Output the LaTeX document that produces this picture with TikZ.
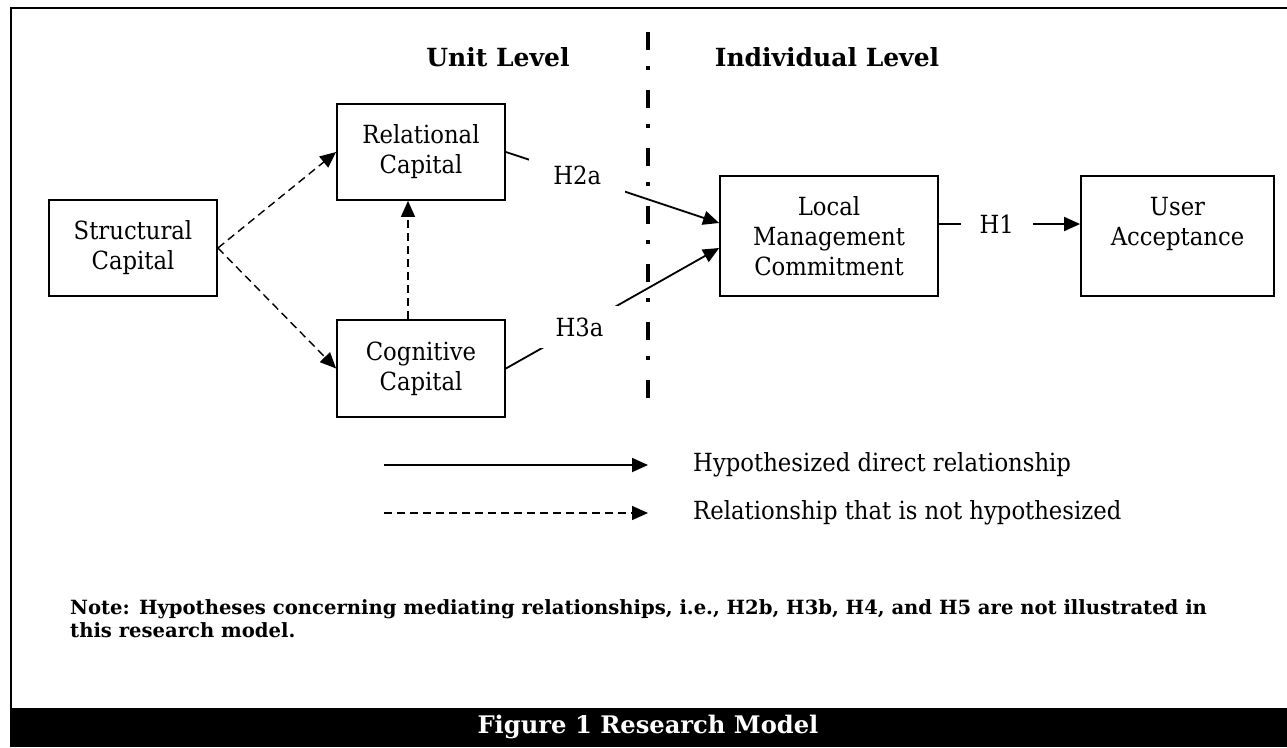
\documentclass[tikz,border=0pt]{standalone}
\usepackage{fontspec}
\setmainfont{DejaVu Serif}[FakeStretch=0.91, BoldFeatures={FakeStretch=1.0}]
\usetikzlibrary{arrows.meta}

\begin{document}
\begin{tikzpicture}[x=1pt, y=-1pt, >={Triangle[length=16pt,width=14pt]},
    every node/.style={font=\fontsize{25}{30}\selectfont},
    box/.style={draw, line width=1.8pt, align=center, inner sep=0pt},
    hyp/.style={->, line width=1.8pt},
    nohyp/.style={->, line width=1.4pt, dash pattern=on 8pt off 5pt},
    hlab/.style={fill=white, inner sep=0pt},
    head/.style={font=\bfseries\fontsize{25}{30}\selectfont}]
  \useasboundingbox (0,0) rectangle (1287,747);

  % frame and caption bar
  \draw[line width=2.5pt] (11,747) -- (11,8) -- (1287,8);
  \fill (10,708) rectangle (1287,747);
  \node[text=white, font=\bfseries\fontsize{24.2}{29}\selectfont] (fig) at (648,727) {Figure 1 Research Model};

  % levels
  \node[head] (unit) at (498,57) {Unit Level};
  \node[head] (indiv) at (827,57) {Individual Level};
  \draw[line width=4.5pt, dash pattern=on 18pt off 16pt on 4pt off 20pt] (648,32) -- (648,405);

  % constructs
  \node[box, minimum width=168, minimum height=96] (str) at (133,248) {Structural\\Capital};
  \node[box, minimum width=168, minimum height=96] (rel) at (421,152) {Relational\\Capital};
  \node[box, minimum width=168, minimum height=97] (cog) at (421,368.5) {Cognitive\\Capital};
  \node[box, minimum width=218, minimum height=120] (lmc) at (829,236) {Local\\Management\\Commitment};
  \node[box, minimum width=193, minimum height=120] (ua) at (1177.5,236) {User\\Acceptance\\\mbox{}};

  % relationships
  \draw[nohyp] (str.east) -- (rel.west);
  \draw[nohyp] (str.east) -- (cog.west);
  \draw[nohyp] ([xshift=-13]cog.north) -- ([xshift=-13]rel.south);
  \draw[hyp] (rel.east) -- node[hlab, pos=0.335, minimum width=96, minimum height=34] (h2a) {H2a} ([yshift=13]lmc.west);
  \draw[hyp] (cog.east) -- node[hlab, pos=0.345, minimum width=78, minimum height=42] (h3a) {H3a} ([yshift=-12]lmc.west);
  \draw[hyp] ([yshift=12]lmc.east) -- node[hlab, pos=0.41, minimum width=72, minimum height=30] (h1) {H1} ([yshift=12]ua.west);

  % legend
  \coordinate (leg1a) at (384,465);
  \coordinate (leg1b) at (648,465);
  \coordinate (leg2a) at (384,513);
  \coordinate (leg2b) at (648,513);
  \draw[hyp] (leg1a) -- (leg1b);
  \draw[nohyp] (leg2a) -- (leg2b);
  \node[anchor=west, inner sep=0pt] (leg1) at (693,465) {Hypothesized direct relationship};
  \node[anchor=west, inner sep=0pt] (leg2) at (693,513) {Relationship that is not hypothesized};

  \node[anchor=base west, align=left, inner sep=0pt, font=\bfseries\fontsize{19.6}{23}\selectfont] (note) at (70,637)
    {Note: Hypotheses concerning mediating relationships, i.e., H2b, H3b, H4, and H5 are not illustrated in\\this research model.};
\end{tikzpicture}
\end{document}
